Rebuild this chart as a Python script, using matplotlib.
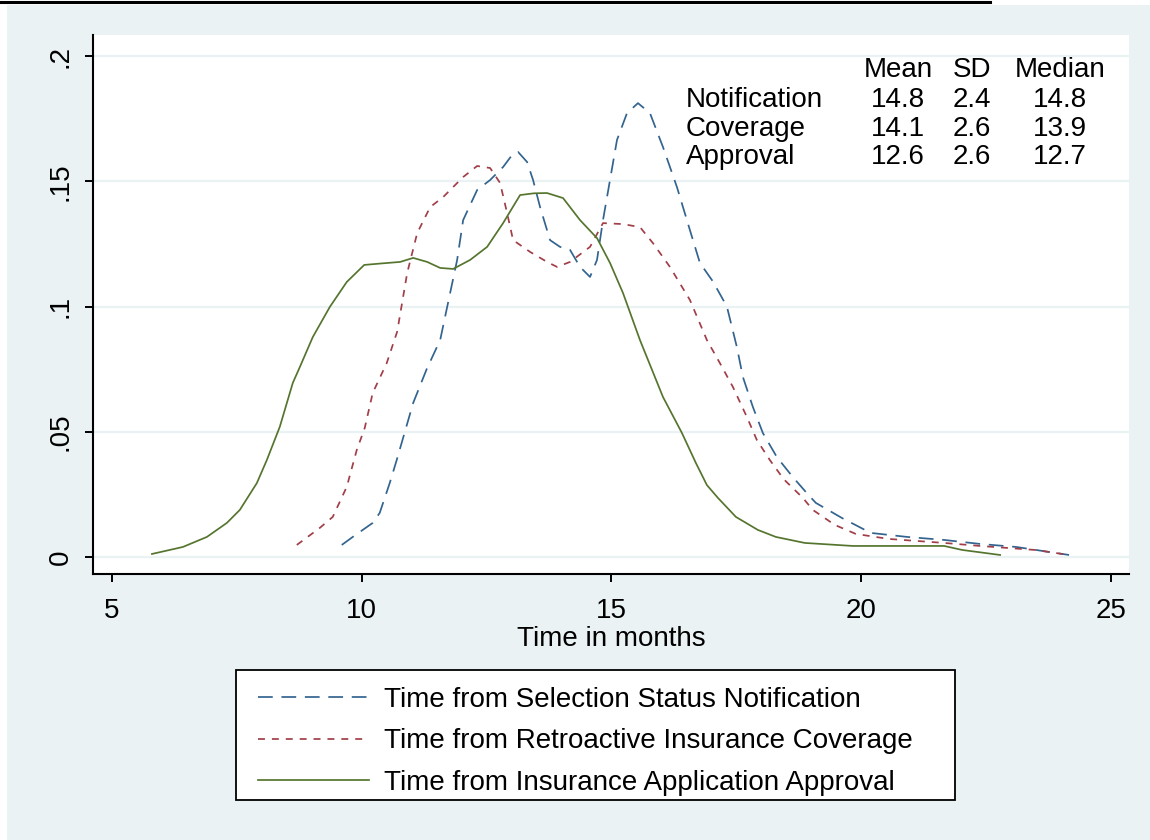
import numpy as np
import matplotlib.pyplot as plt
from matplotlib.patches import Rectangle
from matplotlib.lines import Line2D

plt.rcParams['font.family'] = ['Liberation Sans', 'DejaVu Sans']

##############################################################

# kernel density curves
notif_x = [9.60, 9.82, 10.22, 10.36, 10.56, 10.70, 11.03, 11.30, 11.57, 11.71, 11.91, 12.03,
           12.31, 12.57, 12.83, 13.01, 13.13, 13.31, 13.43, 13.57, 13.77, 13.97, 14.17, 14.37,
           14.57, 14.71, 14.83, 14.97, 15.11, 15.31, 15.53, 15.77, 16.03, 16.31, 16.57, 16.77,
           17.03, 17.31, 17.51, 17.63, 17.83, 18.03, 18.31, 18.63, 18.91, 19.09, 19.61, 20.19,
           20.92, 21.66, 22.38, 23.10, 24.16]
notif_y = [.0048, .0080, .0136, .0176, .0295, .0387, .0615, .0750, .0866, .0998, .1186, .1345,
           .1465, .1505, .1557, .1605, .1617, .1577, .1505, .1397, .1265, .1238, .1226, .1158,
           .1118, .1186, .1345, .1505, .1665, .1772, .1812, .1772, .1637, .1477, .1305, .1174,
           .1100, .1000, .0838, .0719, .0599, .0495, .0399, .0319, .0255, .0216, .0156, .0096,
           .0080, .0068, .0052, .0040, .0008]

cover_x = [8.70, 9.16, 9.42, 9.70, 9.90, 10.06, 10.22, 10.50, 10.71, 10.91, 11.11, 11.37,
           11.63, 12.03, 12.31, 12.57, 12.77, 12.91, 13.03, 13.37, 13.71, 13.91, 14.17, 14.57,
           14.83, 15.23, 15.57, 15.83, 16.17, 16.57, 16.91, 17.17, 17.43, 17.71, 17.91, 18.17,
           18.45, 18.83, 19.03, 19.47, 19.89, 20.55, 21.66, 22.38, 23.48, 24.16]
cover_y = [.0048, .0116, .0160, .0280, .0427, .0515, .0655, .0774, .0900, .1134, .1293, .1397,
           .1437, .1517, .1561, .1553, .1493, .1373, .1265, .1218, .1178, .1158, .1178, .1238,
           .1333, .1329, .1317, .1253, .1158, .1026, .0866, .0774, .0679, .0559, .0467, .0387,
           .0310, .0236, .0188, .0128, .0092, .0072, .0056, .0044, .0028, .0008]

approv_x = [5.80, 6.42, 6.90, 7.30, 7.56, 7.90, 8.10, 8.36, 8.62, 8.76, 9.02, 9.36, 9.70,
            10.05, 10.40, 10.77, 11.03, 11.31, 11.57, 11.83, 12.17, 12.51, 12.83, 13.17, 13.45,
            13.71, 14.03, 14.37, 14.71, 14.97, 15.23, 15.57, 16.03, 16.41, 16.69, 16.91, 17.13,
            17.49, 17.93, 18.29, 18.87, 19.83, 20.70, 21.66, 22.02, 22.78]
approv_y = [.0012, .0040, .0080, .0136, .0188, .0295, .0387, .0520, .0695, .0758, .0878, .0998,
            .1098, .1166, .1172, .1178, .1194, .1178, .1154, .1150, .1186, .1238, .1333, .1445,
            .1452, .1453, .1433, .1345, .1273, .1174, .1054, .0866, .0639, .0495, .0375, .0287,
            .0236, .0160, .0108, .0080, .0056, .0044, .0044, .0044, .0028, .0008]

series_labels = ['Time from Selection Status Notification',
                 'Time from Retroactive Insurance Coverage',
                 'Time from Insurance Application Approval']

stat_rows = ['Notification', 'Coverage', 'Approval']
stat_cols = ['Mean', 'SD', 'Median']
stat_mean = ['14.8', '14.1', '12.6']
stat_sd = ['2.4', '2.6', '2.6']
stat_median = ['14.8', '13.9', '12.7']

x_ticks = [5, 10, 15, 20, 25]
y_ticks = [0, .05, .1, .15, .2]
y_ticklabels = ['0', '.05', '.1', '.15', '.2']

##############################################################

W, H = 1150, 840
bg = '#eaf2f3'
fs = 20

fig = plt.figure(figsize=(W / 100, H / 100), dpi=100, facecolor='white')

# stata-ish graph region
fig.patches.append(Rectangle((7 / W, 0), 1 - 7 / W, 1 - 5 / H, transform=fig.transFigure,
                             facecolor=bg, edgecolor='none', zorder=-10))
# underline of the caption cut off at the top
fig.add_artist(Line2D([0, 990 / W], [1 - 2 / H, 1 - 2 / H], color='black', lw=2.2))

ax = fig.add_axes([93 / W, 1 - 574 / H, (1129 - 93) / W, (574 - 35) / H])
ax.set_facecolor('white')

lw = 1.25
ax.plot(notif_x, notif_y, color='#33648f', lw=lw, linestyle=(0, (8.5, 5)), label=series_labels[0])
ax.plot(cover_x, cover_y, color='#a13e48', lw=lw, linestyle=(0, (4, 4)), label=series_labels[1])
ax.plot(approv_x, approv_y, color='#55752f', lw=lw, label=series_labels[2])

ax.set_xlim(4.62, 25.36)
ax.set_ylim(-0.0068, 0.2084)
ax.set_xticks(x_ticks)
ax.set_yticks(y_ticks)
ax.set_yticklabels(y_ticklabels, rotation=90, va='center')
ax.grid(axis='y', color=bg, lw=1.6)
ax.set_axisbelow(True)
for s in ['top', 'right']:
    ax.spines[s].set_visible(False)
for s in ['left', 'bottom']:
    ax.spines[s].set_linewidth(1.5)
ax.tick_params(axis='both', length=6, width=1.4, labelsize=fs, direction='out')
ax.tick_params(axis='y', pad=8)
ax.tick_params(axis='x', pad=11)
ax.set_xlabel('Time in months', fontsize=fs, labelpad=2)

# summary table in the top right corner
col_x = [898, 972, 1060]
row_y = [100, 129, 157]
for cx, name in zip(col_x, stat_cols):
    fig.text(cx / W, 1 - 70 / H, name, fontsize=fs, ha='center', va='center')
for ry, name, m, sd, md in zip(row_y, stat_rows, stat_mean, stat_sd, stat_median):
    fig.text(686 / W, 1 - ry / H, name, fontsize=fs, ha='left', va='center')
    for cx, val in zip(col_x, [m, sd, md]):
        fig.text(cx / W, 1 - ry / H, val, fontsize=fs, ha='center', va='center')

# legend box, drawn separately so it can be as wide as stata's
fig.patches.append(Rectangle((236 / W, 1 - 800 / H), (955 - 236) / W, 130 / H,
                             transform=fig.transFigure, facecolor='white',
                             edgecolor='black', lw=1.3, zorder=5))
leg = fig.legend(loc='upper left', bbox_to_anchor=(258 / W, 1 - 687 / H), fontsize=fs,
                 frameon=False, handlelength=4.0, handletextpad=0.55, borderpad=0,
                 labelspacing=0.55, borderaxespad=0)
leg.set_zorder(6)

plt.savefig('out.png', dpi=100, facecolor=fig.get_facecolor())
